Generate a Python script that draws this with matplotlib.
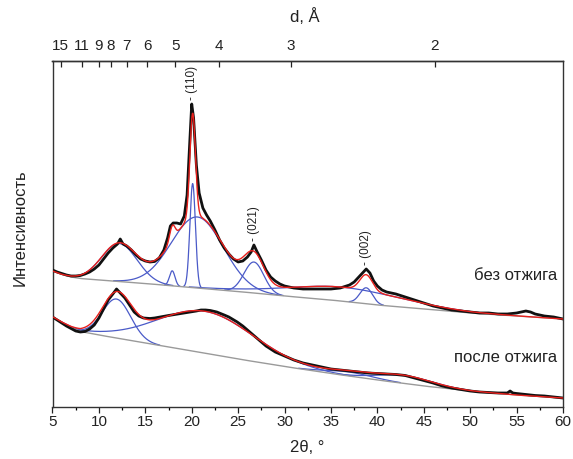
import numpy as np
import matplotlib
matplotlib.use('Agg')
import matplotlib.pyplot as plt

plt.rcParams['font.family'] = ['Liberation Sans', 'DejaVu Sans']

# measured pattern, sample without annealing (2theta, intensity a.u.)
tt_up = [5.0, 5.5, 6.0, 6.5, 7.0, 7.5, 8.0, 8.5, 9.0, 9.5, 10.0, 10.5, 11.0, 11.5, 12.0,
         12.3, 12.6, 13.0, 13.5, 14.0, 14.5, 15.0, 15.5, 16.0, 16.5, 17.0,
         17.4, 17.7, 18.0, 18.4, 18.8, 19.2, 19.5, 19.8, 20.0, 20.2, 20.5, 20.8, 21.2, 21.6,
         22.0, 22.5, 23.0, 23.5, 24.0, 24.5, 25.0, 25.5, 26.0, 26.4, 26.7, 27.0,
         27.5, 28.0, 28.5, 29.0, 29.5, 30.0, 31, 32, 33, 34, 35, 36, 37,
         37.5, 38.0, 38.5, 38.8, 39.2, 39.6, 40.0, 40.5,
         41, 42, 43, 44, 45, 46, 47, 48, 49, 50, 51, 52, 53, 54, 55, 56, 56.5, 57, 58, 59, 60]
I_up = [137, 135, 133.5, 132, 131, 131, 131.5, 133, 135, 138, 142, 148, 154, 159, 163,
        168, 163, 161, 157, 152, 148, 146, 145, 145.5, 149, 157,
        169, 181, 184, 184, 183, 191, 212, 267, 303, 289, 242, 214, 199, 192,
        186, 177, 167, 159, 153, 148, 145, 146, 150, 155, 162, 156,
        147, 137, 130, 126, 123, 121, 119, 118, 118, 118, 118, 119, 122,
        125, 130, 135, 138, 134, 126, 121, 117,
        115, 113, 110, 107, 104, 101, 99, 97, 96, 95, 94, 94, 93, 93, 94, 96, 95, 93, 91, 90, 88]

# measured pattern, annealed sample
tt_lo = [5.0, 5.5, 6.0, 6.5, 7.0, 7.5, 8.0, 8.5, 9.0, 9.5, 10.0, 10.5, 11.0, 11.5,
         11.9, 12.3, 12.8, 13.3, 13.8, 14.3, 14.8, 15.5, 16.0, 16.6, 17.5, 18.5, 19.5, 20.5,
         21.0, 21.5, 22.0, 22.7, 23.5, 24.0, 24.9, 25.5,
         26.0, 26.5, 27.0, 27.5, 28.0, 28.5, 29.0, 29.5, 30.0,
         31, 32, 33, 34, 35, 36, 37, 38, 39, 40, 41, 42, 43, 44, 45, 46, 47, 48, 49, 50,
         51, 52, 53, 54, 54.3, 54.6, 55, 56, 57, 58, 59, 60]
I_lo = [90, 87, 84, 81, 78.5, 76, 75, 75.5, 78, 82, 89, 98, 107, 113,
        118, 114, 109, 102, 95, 91, 89, 88.5, 89, 90, 91.5, 93, 94.5, 96,
        97, 97, 96.5, 95, 92, 90, 85, 81,
        77, 73, 69, 65, 61, 58, 55, 53, 51,
        47, 44, 42, 40, 38, 37, 36, 35, 34, 33.5, 33, 32.5, 31.5, 29, 26.5, 24, 21, 19, 17.5, 16,
        15, 14.5, 14, 14, 16, 14, 13.5, 12.5, 11.5, 11, 10, 9]

# background lines
bg_tt = [5, 6, 7, 8, 10, 15, 20, 25, 30, 35, 40, 45, 50, 55, 60]
bg_up = [136, 132.5, 130, 128.5, 127, 123.5, 119.5, 115.5, 111, 107, 102, 98, 94, 91, 88]
bg_lo = [90, 84.5, 79.5, 75.5, 72, 64, 56, 48, 40.5, 33.5, 27, 21, 16, 12, 9]

# fitted peaks: centre, height, fwhm
peaks_up = [(12.2, 38, 4.5), (17.9, 15, 0.7), (20.6, 71, 6.6), (20.1, 104, 0.7),
            (26.7, 31, 2.5), (38.8, 16, 1.6), (36.5, 14, 14.8)]
peaks_lo = [(11.9, 39, 3.6), (21.5, 42, 12.2), (37.0, 4, 6.0), (43.0, 8, 7.0)]

hkl = ['(110)', '(021)', '(002)']
hkl_pos = [20.0, 26.7, 38.8]

d_labels = [15, 11, 9, 8, 7, 6, 5, 4, 3, 2]
d_pos = [5.9, 8.2, 10.0, 11.3, 13.0, 15.2, 18.25, 22.95, 30.7, 46.2]


def gauss(x, c, h, w):
    return h * np.exp(-4 * np.log(2) * (x - c) ** 2 / w ** 2)


fig = plt.figure(figsize=(5.73, 4.59), dpi=100)
ax = fig.add_axes([52.5 / 573, 52 / 459, 510.5 / 573, 346 / 459])

x = np.linspace(5, 60, 2201)
blue = '#4a5ac8'
for tt, I, bgv, peaks in [(tt_up, I_up, bg_up, peaks_up), (tt_lo, I_lo, bg_lo, peaks_lo)]:
    bg = np.interp(x, bg_tt, bgv)
    fit = bg.copy()
    for c, h, w in peaks:
        g = gauss(x, c, h, w)
        fit += g
        line = np.where(g > 0.4, bg + g, np.nan)
        ax.plot(x, line, color=blue, lw=0.9, zorder=1)
    ax.plot(x, bg, color='#9a9a9a', lw=1.0, zorder=2)
    ax.plot(tt, I, color='#111111', lw=2.0, zorder=3, solid_joinstyle='round')
    ax.plot(x, fit, color='#e8201c', lw=1.0, zorder=4)

for lab, p in zip(hkl, hkl_pos):
    ax.text(p, np.interp(p, tt_up, I_up) + 4, '- ' + lab, rotation=90, ha='center', va='bottom',
            fontsize=8.5, color='#222222')

ax.text(59.4, 131, 'без отжига', ha='right', va='center', fontsize=12, color='#222222')
ax.text(59.4, 50, 'после отжига', ha='right', va='center', fontsize=12, color='#222222')

ax.set_xlim(5, 60)
ax.set_ylim(0, 346)
ax.set_yticks([])
ax.set_xticks(range(5, 61, 5))
ax.set_xticks(np.arange(7.5, 60, 5), minor=True)
ax.tick_params(axis='x', which='major', direction='out', length=4, width=0.9, pad=1.5,
               labelsize=11, colors='#222222')
ax.tick_params(axis='x', which='minor', direction='out', length=2.5, width=0.9)
for s in ax.spines.values():
    s.set_linewidth(1.0)
    s.set_color('#333333')

secax = ax.secondary_xaxis('top')
secax.set_xticks(d_pos, labels=[str(d) for d in d_labels])
secax.tick_params(direction='in', length=4, width=0.9, pad=6, labelsize=11, colors='#222222')
secax.spines['top'].set_linewidth(1.0)
secax.spines['top'].set_color('#333333')

fig.text(305 / 573, 1 - 17 / 459, 'd, Å', ha='center', va='center', fontsize=12, color='#222222')
fig.text(307 / 573, 1 - 447 / 459, '2θ, °', ha='center', va='center', fontsize=12, color='#222222')
fig.text(20 / 573, 1 - 228 / 459, 'Интенсивность', rotation=90, ha='center', va='center',
         fontsize=12, color='#222222')

fig.savefig('out.png', dpi=100)
